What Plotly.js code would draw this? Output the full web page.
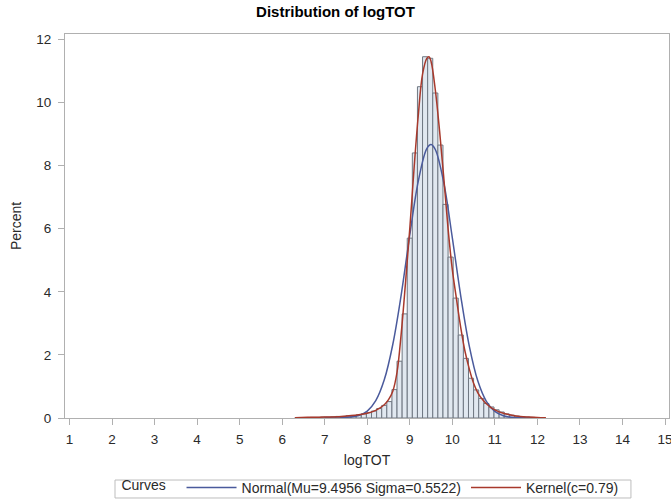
<!DOCTYPE html>
<html>
<head>
<meta charset="utf-8">
<script src="https://cdn.plot.ly/plotly-3.0.1.min.js"></script>
<style>
  html, body { margin: 0; padding: 0; background: #ffffff; }
  #chart { width: 671px; height: 502px; }
</style>
</head>
<body>
<div id="chart"></div>
<script>
// Histogram bins (midpoints, width 0.12) and percent heights
const binMid = [6.36, 6.48, 6.60, 6.72, 6.84, 6.96, 7.08, 7.20, 7.32, 7.44, 7.56, 7.68, 7.80, 7.92,
                8.04, 8.16, 8.28, 8.40, 8.52, 8.64, 8.76, 8.88, 9.00, 9.12, 9.24, 9.36, 9.48, 9.60,
                9.72, 9.84, 9.96, 10.08, 10.20, 10.32, 10.44, 10.56, 10.68, 10.80, 10.92, 11.04,
                11.16, 11.28, 11.40, 11.52, 11.64, 11.76, 11.88, 12.00, 12.12];
const binPct = [0.01, 0.01, 0.01, 0.02, 0.02, 0.03, 0.03, 0.04, 0.05, 0.05, 0.07, 0.08, 0.10, 0.13,
                0.17, 0.22, 0.30, 0.40, 0.52, 0.90, 1.80, 3.30, 5.70, 8.40, 10.50, 11.45, 11.40, 10.30,
                8.65, 6.77, 5.10, 3.80, 2.63, 1.89, 1.26, 0.89, 0.62, 0.46, 0.35, 0.26,
                0.19, 0.13, 0.09, 0.06, 0.04, 0.03, 0.02, 0.01, 0.01];
const binWidth = 0.12;

// Normal curve points
const normalX = [7.0, 7.4, 7.8, 8.0, 8.2, 8.4, 8.6, 8.8, 9.0, 9.2, 9.4, 9.5, 9.6, 9.8, 10.0,
                 10.2, 10.4, 10.6, 10.8, 11.0, 11.2, 11.4, 11.6, 12.0];
const normalY = [0.0, 0.01, 0.08, 0.22, 0.55, 1.21, 2.33, 3.92, 5.80, 7.51, 8.54, 8.67, 8.51, 7.45, 5.71,
                 3.85, 2.27, 1.17, 0.53, 0.21, 0.07, 0.02, 0.01, 0.0];

// Kernel curve points
const kernelX = [6.3, 6.6, 7.0, 7.4, 7.8, 8.0, 8.2, 8.3, 8.4, 8.5, 8.6, 8.7, 8.8, 8.9, 9.0, 9.1, 9.2,
                 9.3, 9.4, 9.45, 9.5, 9.6, 9.7, 9.8, 9.9, 10.0, 10.1, 10.2, 10.3, 10.4, 10.5, 10.6,
                 10.7, 10.8, 10.9, 11.0, 11.2, 11.4, 11.6, 11.8, 12.0, 12.2];
const kernelY = [0.01, 0.02, 0.03, 0.05, 0.10, 0.15, 0.24, 0.32, 0.42, 0.58, 0.85, 1.45, 2.70, 4.30, 6.00,
                 7.90, 9.60, 10.90, 11.40, 11.45, 11.30, 10.40, 9.10, 7.60, 6.00, 4.70, 3.75, 2.85, 2.10,
                 1.55, 1.10, 0.80, 0.60, 0.45, 0.34, 0.26, 0.15, 0.09, 0.05, 0.03, 0.015, 0.005];

const xTicks = [1, 2, 3, 4, 5, 6, 7, 8, 9, 10, 11, 12, 13, 14, 15];
const yTicks = [0, 2, 4, 6, 8, 10, 12];

const FONT = 'Liberation Sans, Arial, sans-serif';

const traces = [
  {
    type: 'bar', x: binMid, y: binPct, width: binWidth,
    marker: { color: '#e1e8f0', line: { color: '#6f7782', width: 1 } },
    showlegend: false, hoverinfo: 'x+y'
  },
  {
    type: 'scatter', mode: 'lines', x: normalX, y: normalY,
    line: { color: '#4a5a9c', width: 1.5, shape: 'spline' },
    name: 'Normal(Mu=9.4956 Sigma=0.5522)'
  },
  {
    type: 'scatter', mode: 'lines', x: kernelX, y: kernelY,
    line: { color: '#a8392c', width: 1.5, shape: 'spline' },
    name: 'Kernel(c=0.79)'
  }
];

const layout = {
  width: 671, height: 502,
  margin: { l: 65, r: 2, t: 34, b: 84 },
  paper_bgcolor: '#ffffff', plot_bgcolor: '#ffffff',
  font: { family: FONT, size: 13.5, color: '#2a2a2a' },
  bargap: 0,
  title: {
    text: '<b>Distribution of logTOT</b>',
    font: { family: FONT, size: 15, color: '#000000' },
    x: 0.5, xanchor: 'center', y: 0.988, yanchor: 'top'
  },
  xaxis: {
    range: [0.894, 15.094], tickvals: xTicks, ticktext: xTicks.map(String),
    ticks: 'outside', ticklen: 6, tickcolor: '#b0b0b0', ticklabelstandoff: 3,
    ticklabeloverflow: 'allow',
    tickfont: { size: 13.5, color: '#2a2a2a' },
    showline: true, linecolor: '#b0b0b0', linewidth: 1, mirror: true,
    showgrid: false, zeroline: false,
    title: { text: 'logTOT', font: { size: 14, color: '#2a2a2a' }, standoff: 8 }
  },
  yaxis: {
    range: [0, 12.17], tickvals: yTicks, ticktext: yTicks.map(String),
    ticks: 'outside', ticklen: 6, tickcolor: '#b0b0b0', ticklabelstandoff: 4,
    tickfont: { size: 13.5, color: '#2a2a2a' },
    showline: true, linecolor: '#b0b0b0', linewidth: 1, mirror: true,
    showgrid: false, zeroline: false,
    title: { text: 'Percent', font: { size: 14, color: '#2a2a2a' }, standoff: 11 }
  },
  showlegend: true,
  legend: {
    orientation: 'h', xref: 'container', yref: 'container',
    x: 0.5535, xanchor: 'center', y: 0.0598, yanchor: 'top',
    borderwidth: 0, bgcolor: 'rgba(0,0,0,0)',
    font: { size: 14, color: '#2a2a2a' },
    title: { text: 'Curves  ', side: 'left', font: { size: 14, color: '#2a2a2a' } },
    itemwidth: 50, tracegroupgap: 0
  },
  // legend frame
  shapes: [{
    type: 'rect', xref: 'paper', yref: 'paper',
    x0: 0.0828, x1: 0.937, y0: -0.1615, y1: -0.2083,
    line: { color: '#bdbdbd', width: 1 }, fillcolor: 'rgba(0,0,0,0)', layer: 'below'
  }]
};

Plotly.newPlot('chart', traces, layout, { displayModeBar: false, staticPlot: true });
</script>
</body>
</html>
